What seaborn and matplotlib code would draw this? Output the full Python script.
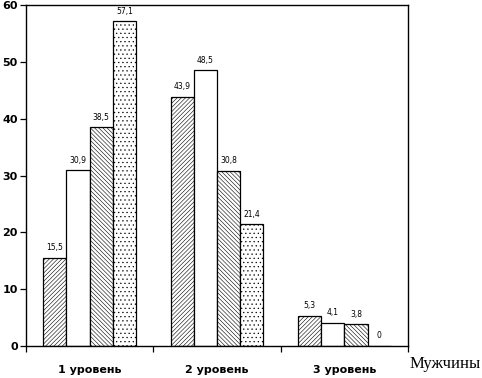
import matplotlib
matplotlib.use("Agg")
import matplotlib.pyplot as plt
import seaborn as sns
import pandas as pd
import numpy as np

# data
levels = ["1 уровень", "2 уровень", "3 уровень"]
series = ["s1", "s2", "s3", "s4"]
s1 = [15.5, 43.9, 5.3]
s2 = [30.9, 48.5, 4.1]
s3 = [38.5, 30.8, 3.8]
s4 = [57.1, 21.4, 0.0]
hatches = ["////////", "", "\\\\\\\\\\\\\\\\", "...."]

rows = []
for name, vals in zip(series, [s1, s2, s3, s4]):
    for lev, v in zip(levels, vals):
        rows.append({"Level": lev, "Series": name, "Value": v})
df = pd.DataFrame(rows)

sns.set_style("white")
plt.rcParams["font.family"] = ["DejaVu Sans"]
plt.rcParams["hatch.linewidth"] = 0.4
plt.rcParams["text.color"] = "black"
plt.rcParams["xtick.color"] = "black"
plt.rcParams["ytick.color"] = "black"

fig = plt.figure(figsize=(4.82, 3.78), dpi=100)
ax = fig.add_axes([26 / 482, 32 / 378, 382 / 482, 341 / 378])

sns.barplot(data=df, x="Level", y="Value", hue="Series", order=levels,
            hue_order=series, width=0.73, gap=0,
            palette=["white"] * 4, edgecolor="black", linewidth=0.9,
            legend=False, ax=ax)

for i, name in enumerate(series):
    for bar in ax.containers[i]:
        bar.set_hatch(hatches[i])
    labels = [f"{v:.1f}".replace(".", ",") if v > 0 else "0"
              for v in [s1, s2, s3, s4][i]]
    ax.bar_label(ax.containers[i], labels=labels, padding=4, fontsize=5.5,
                 color="black")

ax.set_xlim(-0.5, 2.5)
ax.set_ylim(0, 60)
ax.set_yticks([0, 10, 20, 30, 40, 50, 60])
ax.set_xlabel("")
ax.set_ylabel("")
ax.set_xticks([-0.5, 0.5, 1.5, 2.5], minor=True)
ax.tick_params(axis="x", which="major", length=0, pad=14, labelsize=8,
               labelcolor="black")
ax.tick_params(axis="x", which="minor", length=4, width=0.9, direction="out",
               bottom=True, color="black")
ax.tick_params(axis="y", length=4, width=0.9, direction="out", left=True,
               labelsize=8, pad=2, labelcolor="black", color="black")
for lab in ax.get_xticklabels() + ax.get_yticklabels():
    lab.set_fontweight("bold")
for sp in ax.spines.values():
    sp.set_color("black")
    sp.set_linewidth(1.0)

ax.text(1.005, -0.028, "Мужчины", transform=ax.transAxes, ha="left", va="top",
        fontsize=12, family="Liberation Serif", color="black")

plt.savefig("out.png", dpi=100)
